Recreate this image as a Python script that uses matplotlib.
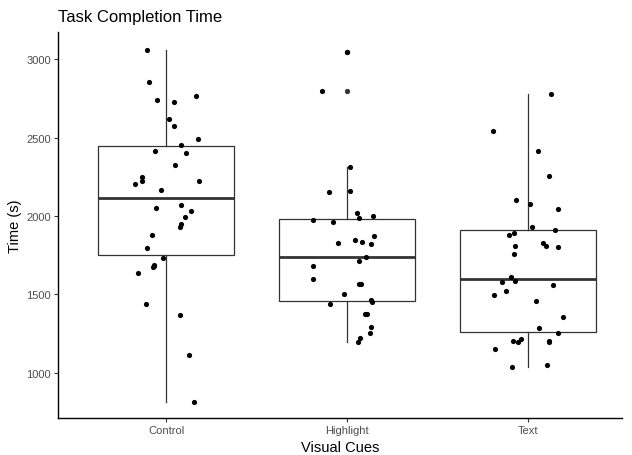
import matplotlib
matplotlib.use('Agg')
import matplotlib.pyplot as plt
import numpy as np

plt.rcParams['font.family'] = ['Liberation Sans', 'DejaVu Sans']

categories = ['Control', 'Highlight', 'Text']

# completion times (s)
control = [3060, 2853, 2742, 2728, 2764, 2617, 2574, 2493, 2455, 2413, 2400,
           2327, 2249, 2225, 2206, 2223, 2164, 2068, 2049, 2032, 1992, 1949,
           1928, 1877, 1796, 1734, 1689, 1675, 1634, 1438, 1368, 1111, 815, 1682]
highlight = [3047, 2800, 2315, 2151, 2161, 2021, 2000, 1987, 1974, 1962, 1872,
             1826, 1845, 1834, 1821, 1740, 1711, 1679, 1598, 1568, 1568, 1500,
             1464, 1449, 1438, 1375, 1375, 1294, 1251, 1222, 1194]
text = [2780, 2541, 2415, 2253, 2102, 2075, 2043, 1932, 1913, 1892, 1879, 1807,
        1830, 1807, 1802, 1756, 1609, 1577, 1587, 1562, 1519, 1494, 1459, 1354,
        1283, 1255, 1204, 1213, 1194, 1204, 1194, 1151, 1038, 1051]

# horizontal jitter of each point (category units), as seen in the picture
control_jit = [-0.107, -0.096, -0.048, 0.046, 0.167, 0.017, 0.046, 0.177, 0.085,
               -0.061, 0.109, 0.048, -0.131, -0.134, -0.171, 0.181, -0.028, 0.081,
               -0.057, 0.136, 0.103, 0.085, 0.079, -0.077, -0.103, -0.015, -0.066,
               -0.073, -0.155, -0.109, 0.076, 0.129, 0.153, -0.069]
highlight_jit = [0.002, -0.138, 0.019, -0.101, 0.019, 0.055, 0.144, 0.066, -0.186,
                 -0.077, 0.151, -0.048, 0.043, 0.085, 0.131, 0.105, 0.069, -0.190,
                 -0.186, 0.065, 0.076, -0.017, 0.133, 0.138, -0.094, 0.098, 0.109,
                 0.133, 0.125, 0.074, 0.059]
text_jit = [0.125, -0.192, 0.055, 0.114, -0.066, 0.009, 0.169, 0.025, 0.152, -0.077,
            -0.107, -0.069, 0.081, 0.099, 0.164, -0.077, -0.096, -0.142, -0.069, 0.136,
            -0.120, -0.188, 0.044, 0.195, 0.062, 0.167, -0.080, -0.039, -0.055, 0.114,
            0.119, -0.181, -0.088, 0.108]

data = [control, highlight, text]
jitter = [control_jit, highlight_jit, text_jit]

fig = plt.figure(figsize=(6.32, 4.56), dpi=100)
ax = fig.add_axes([58 / 632, 37 / 456, (622 - 58) / 632, (419 - 33) / 456])

edge = '#333333'
pos = np.arange(1, len(categories) + 1)
ax.boxplot(data, positions=pos, widths=0.75, whis=1.5, patch_artist=True,
           showcaps=False,
           boxprops=dict(facecolor='white', edgecolor=edge, linewidth=0.9),
           whiskerprops=dict(color=edge, linewidth=0.9),
           medianprops=dict(color=edge, linewidth=2.0),
           flierprops=dict(marker='o', markerfacecolor=edge, markeredgewidth=0,
                           markersize=3.8))

for p, vals, jit in zip(pos, data, jitter):
    ax.scatter(p + np.array(jit), vals, s=14, color='black', zorder=3, linewidths=0)

ax.set_xlim(0.403, 3.52)
ax.set_ylim(711, 3174)
ax.set_xticks(pos)
ax.set_xticklabels(categories)
ax.set_yticks([1000, 1500, 2000, 2500, 3000])

for s in ['top', 'right']:
    ax.spines[s].set_visible(False)
for s in ['left', 'bottom']:
    ax.spines[s].set_color('black')
    ax.spines[s].set_linewidth(1.0)
ax.tick_params(length=3, width=0.8, color=edge, labelsize=8, labelcolor='#4d4d4d', pad=2)

ax.set_xlabel('Visual Cues', fontsize=10.5, color='black', labelpad=4)
ax.set_ylabel('Time (s)', fontsize=10.5, color='black', labelpad=3)
ax.set_title('Task Completion Time', loc='left', fontsize=12, color='black', pad=8)

fig.savefig('out.png', dpi=100)
